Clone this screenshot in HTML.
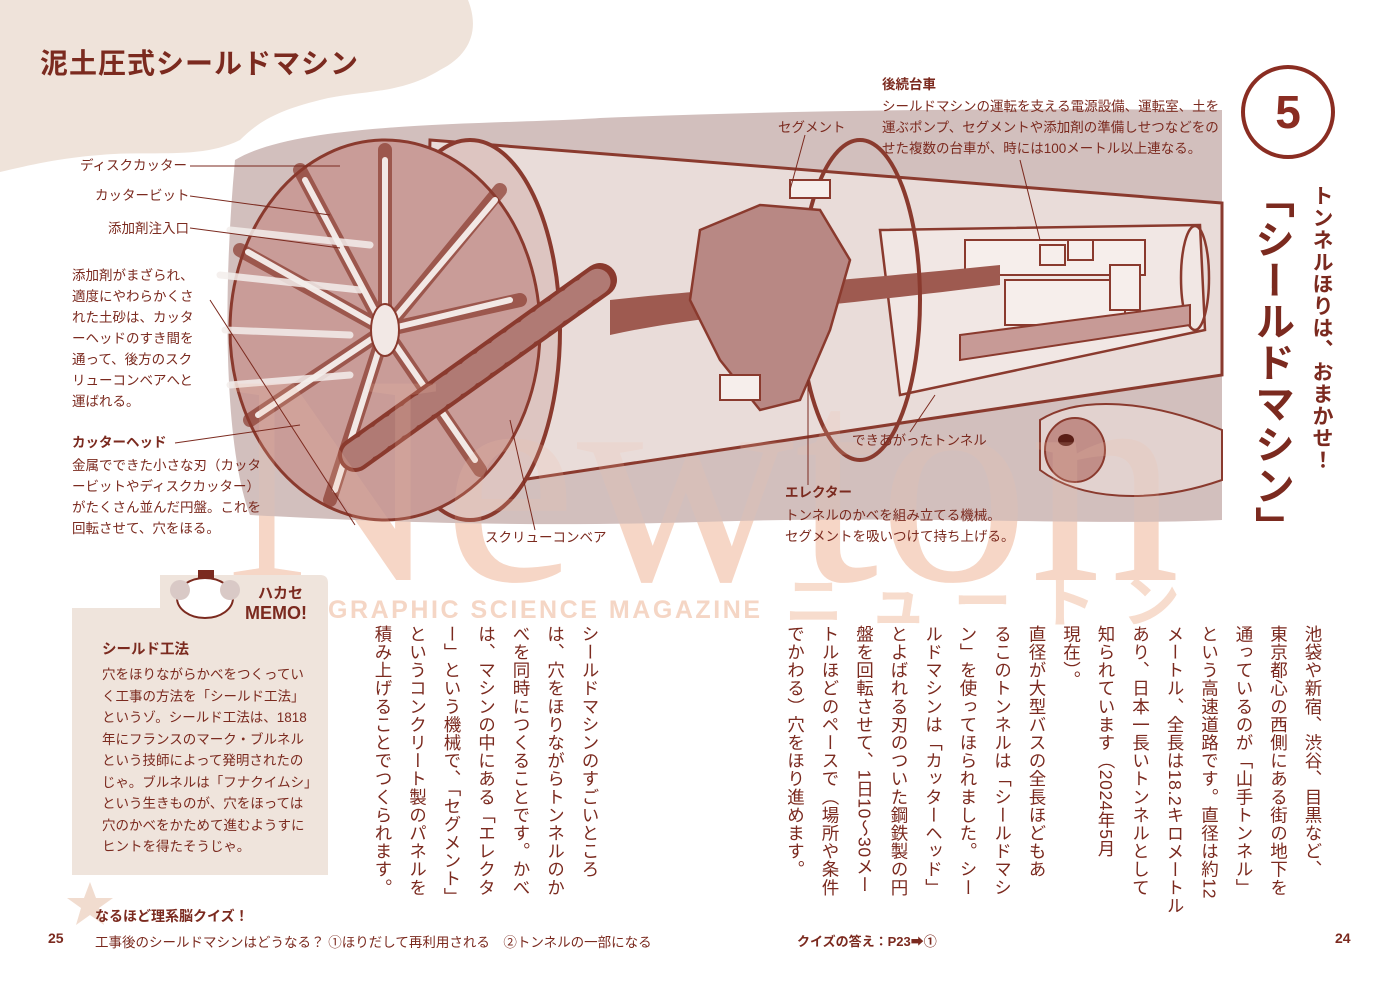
<!DOCTYPE html>
<html><head><meta charset="utf-8">
<style>
*{margin:0;padding:0;box-sizing:border-box}
body{width:1400px;height:993px;background:#fff;position:relative;overflow:hidden;font-family:"Liberation Sans","Noto Sans CJK JP",sans-serif;color:#7b2a1f}
.a{position:absolute;white-space:nowrap}
.lab{font-size:13.5px;line-height:21px}
.b{font-weight:bold}
.v{position:absolute;writing-mode:vertical-rl;font-size:17.5px;line-height:34.5px;letter-spacing:0.6px;white-space:nowrap}
.memo{font-size:13.5px;line-height:21.5px}
</style></head><body>
<svg class="a" style="left:0;top:0" width="1400" height="993" viewBox="0 0 1400 993">
<path d="M0 0 H468 C480 30 470 55 440 70 C400 95 360 90 320 100 C280 110 260 120 240 140 C200 160 150 150 100 155 C60 158 30 165 0 172 Z" fill="#efe3da"/>
<text x="225" y="580" font-family="Liberation Serif,serif" font-size="300" fill="#f7dccd" textLength="955" lengthAdjust="spacingAndGlyphs">Newton</text>
<text x="785" y="622" font-family="Liberation Sans,Noto Sans CJK JP,sans-serif" font-size="58" font-weight="bold" fill="#f7dccd" textLength="395">ニュートン</text>
<text x="328" y="618" font-family="Liberation Sans,sans-serif" font-size="25" font-weight="bold" fill="#f5d6c5" textLength="432">GRAPHIC SCIENCE MAGAZINE</text>
<path d="M235 160 C300 120 500 125 600 118 C800 110 1000 108 1222 110 L1222 520 C1100 526 900 515 700 522 C500 528 350 520 250 515 C225 450 222 300 235 160 Z" fill="#d2bfbd"/>
<polygon points="430,140 1222,203 1222,375 420,495" fill="#e9dcd9" stroke="#8a3a2e" stroke-width="3"/>
<polygon points="880,230 1200,225 1205,330 900,395" fill="#f1e7e4" stroke="#8a3a2e" stroke-width="2.5"/>
<ellipse cx="1195" cy="278" rx="14" ry="52" fill="none" stroke="#8a3a2e" stroke-width="2.5"/>
<g fill="#f6eeeb" stroke="#8a3a2e" stroke-width="2">
<rect x="965" y="240" width="180" height="35"/>
<rect x="1005" y="280" width="120" height="45"/>
<rect x="1040" y="245" width="25" height="20"/><rect x="1068" y="240" width="25" height="20"/>
<rect x="1110" y="265" width="30" height="45"/>
</g>
<path d="M960 335 L1190 305 L1190 325 L960 360 Z" fill="#c79a96" stroke="#8a3a2e" stroke-width="2"/>
<path d="M610 300 C700 290 800 285 1000 265 L1000 285 C800 310 700 315 610 335 Z" fill="#9e5a50"/>
<ellipse cx="860" cy="300" rx="60" ry="160" fill="none" stroke="#8a3a2e" stroke-width="4"/>
<path d="M700 230 L760 205 L820 210 L850 260 L830 330 L800 400 L760 410 L720 360 L690 300 Z" fill="#b88884" stroke="#8a3a2e" stroke-width="2.5"/>
<rect x="790" y="180" width="40" height="18" fill="#f6eeeb" stroke="#8a3a2e" stroke-width="2"/>
<rect x="720" y="375" width="40" height="25" fill="#f6eeeb" stroke="#8a3a2e" stroke-width="2"/>
<ellipse cx="470" cy="330" rx="90" ry="190" fill="#ddc5c1" stroke="#8a3a2e" stroke-width="4"/>
<ellipse cx="385" cy="330" rx="155" ry="190" fill="#c99c98" stroke="#8a3a2e" stroke-width="3"/>
<g stroke="#8a3a2e" stroke-width="14" stroke-linecap="round" opacity="0.7">
<line x1="385" y1="330" x2="385" y2="150"/><line x1="385" y1="330" x2="500" y2="190"/><line x1="385" y1="330" x2="520" y2="300"/>
<line x1="385" y1="330" x2="480" y2="470"/><line x1="385" y1="330" x2="330" y2="500"/><line x1="385" y1="330" x2="250" y2="420"/>
<line x1="385" y1="330" x2="240" y2="250"/><line x1="385" y1="330" x2="300" y2="170"/>
</g>
<g stroke="#f2e8e5" stroke-width="6" stroke-linecap="round">
<line x1="385" y1="330" x2="385" y2="160"/><line x1="385" y1="330" x2="495" y2="200"/><line x1="385" y1="330" x2="510" y2="300"/>
<line x1="385" y1="330" x2="475" y2="460"/><line x1="385" y1="330" x2="335" y2="490"/><line x1="385" y1="330" x2="258" y2="415"/>
<line x1="385" y1="330" x2="248" y2="252"/><line x1="385" y1="330" x2="305" y2="180"/>
</g>
<ellipse cx="385" cy="330" rx="14" ry="26" fill="#f2e8e5" stroke="#8a3a2e" stroke-width="2"/>
<line x1="355" y1="455" x2="600" y2="280" stroke="#8a3a2e" stroke-width="34" stroke-linecap="round"/>
<line x1="355" y1="455" x2="600" y2="280" stroke="#b07a74" stroke-width="26" stroke-linecap="round" stroke-dasharray="10 8"/>
<g stroke="#f4eeec" stroke-width="7" stroke-linecap="round" opacity="0.85">
<line x1="230" y1="230" x2="370" y2="245"/><line x1="220" y1="275" x2="360" y2="290"/><line x1="225" y1="330" x2="350" y2="335"/><line x1="230" y1="385" x2="350" y2="375"/>
</g>
<path d="M1040 420 C1080 395 1150 400 1222 430 L1222 480 C1150 505 1080 500 1040 470 Z" fill="#e2d2cf" stroke="#8a3a2e" stroke-width="2"/>
<ellipse cx="1075" cy="450" rx="30" ry="32" fill="#c18e88" stroke="#8a3a2e" stroke-width="2"/>
<ellipse cx="1066" cy="440" rx="8" ry="6" fill="#5a1e16"/>
<text x="225" y="580" font-family="Liberation Serif,serif" font-size="300" fill="#f2c0a8" opacity="0.18" textLength="955" lengthAdjust="spacingAndGlyphs">Newton</text>
<g stroke="#7b2a1f" stroke-width="1">
<line x1="190" y1="166" x2="340" y2="166"/><line x1="190" y1="196" x2="330" y2="215"/><line x1="190" y1="228" x2="340" y2="248"/>
<line x1="175" y1="443" x2="300" y2="425"/><line x1="210" y1="300" x2="355" y2="525"/>
<line x1="535" y1="530" x2="510" y2="420"/><line x1="805" y1="135" x2="790" y2="190"/><line x1="808" y1="485" x2="808" y2="380"/>
<line x1="910" y1="432" x2="935" y2="395"/><line x1="1020" y1="160" x2="1040" y2="240"/>
</g>
<circle cx="1288" cy="112" r="45" fill="#fff" stroke="#8a2d22" stroke-width="4"/>
<text x="1288" y="128" text-anchor="middle" font-size="46" font-weight="bold" fill="#8a2d22" font-family="Liberation Sans,sans-serif">5</text>
<polygon points="90,882 96,898 113,898 99,908 104,925 90,915 76,925 81,908 67,898 84,898" fill="#f1dccf"/>
<path d="M160 575 H320 Q328 575 328 583 V875 H72 V608 H160 Z" fill="#efe4dc"/>
<ellipse cx="205" cy="598" rx="28" ry="20" fill="#fff" stroke="#7b2a1f" stroke-width="2"/>
<circle cx="180" cy="590" r="10" fill="#d9c9c6"/><circle cx="230" cy="590" r="10" fill="#d9c9c6"/>
<rect x="198" y="570" width="16" height="8" fill="#7b2a1f"/>
</svg>

<div class="a b" style="left:40px;top:42px;font-size:28px;letter-spacing:1px">泥土圧式シールドマシン</div>

<div class="a lab" style="left:80px;top:155px">ディスクカッター</div>
<div class="a lab" style="left:95px;top:185px">カッタービット</div>
<div class="a lab" style="left:108px;top:218px">添加剤注入口</div>
<div class="a lab" style="left:72px;top:265px">添加剤がまざられ、<br>適度にやわらかくさ<br>れた土砂は、カッタ<br>ーヘッドのすき間を<br>通って、後方のスク<br>リューコンベアへと<br>運ばれる。</div>
<div class="a lab b" style="left:72px;top:432px">カッターヘッド</div>
<div class="a lab" style="left:72px;top:455px">金属でできた小さな刃（カッタ<br>ービットやディスクカッター）<br>がたくさん並んだ円盤。これを<br>回転させて、穴をほる。</div>
<div class="a lab" style="left:485px;top:527px">スクリューコンベア</div>
<div class="a lab b" style="left:785px;top:482px">エレクター</div>
<div class="a lab" style="left:785px;top:505px">トンネルのかべを組み立てる機械。<br>セグメントを吸いつけて持ち上げる。</div>
<div class="a lab" style="left:852px;top:430px">できあがったトンネル</div>
<div class="a lab" style="left:778px;top:117px">セグメント</div>
<div class="a lab b" style="left:882px;top:74px">後続台車</div>
<div class="a lab" style="left:882px;top:96px">シールドマシンの運転を支える電源設備、運転室、土を<br>運ぶポンプ、セグメントや添加剤の準備しせつなどをの<br>せた複数の台車が、時には100メートル以上連なる。</div>

<div class="a b" style="left:1306px;top:185px;writing-mode:vertical-rl;font-size:21px;letter-spacing:1px">トンネルほりは、おまかせ！</div>
<div class="a b" style="left:1242px;top:178px;writing-mode:vertical-rl;font-size:40px;letter-spacing:1px">「シールドマシン」</div>

<div class="v" style="right:70px;top:625px;height:270px">池袋や新宿、渋谷、目黒など、<br>東京都心の西側にある街の地下を<br>通っているのが「山手トンネル」<br>という高速道路です。直径は約12<br>メートル、全長は18.2キロメートル<br>あり、日本一長いトンネルとして<br>知られています（2024年5月<br>現在）。<br>直径が大型バスの全長ほどもあ<br>るこのトンネルは「シールドマシ<br>ン」を使ってほられました。シー<br>ルドマシンは「カッターヘッド」<br>とよばれる刃のついた鋼鉄製の円<br>盤を回転させて、1日10～30メー<br>トルほどのペースで（場所や条件<br>でかわる）穴をほり進めます。</div>

<div class="v" style="right:793px;top:625px;height:270px">シールドマシンのすごいところ<br>は、穴をほりながらトンネルのか<br>べを同時につくることです。かべ<br>は、マシンの中にある「エレクタ<br>ー」という機械で、「セグメント」<br>というコンクリート製のパネルを<br>積み上げることでつくられます。</div>

<div class="a b" style="left:258px;top:582px;font-size:15px">ハカセ</div>
<div class="a b" style="left:245px;top:603px;font-size:18px">MEMO!</div>
<div class="a memo b" style="left:102px;top:640px;font-size:14.5px">シールド工法</div>
<div class="a memo" style="left:102px;top:664px">穴をほりながらかべをつくってい<br>く工事の方法を「シールド工法」<br>というゾ。シールド工法は、1818<br>年にフランスのマーク・ブルネル<br>という技師によって発明されたの<br>じゃ。ブルネルは「フナクイムシ」<br>という生きものが、穴をほっては<br>穴のかべをかためて進むようすに<br>ヒントを得たそうじゃ。</div>

<div class="a b" style="left:95px;top:906px;font-size:14px">なるほど理系脳クイズ！</div>
<div class="a b" style="left:48px;top:930px;font-size:14px">25</div>
<div class="a" style="left:95px;top:931px;font-size:13.5px">工事後のシールドマシンはどうなる？ ①ほりだして再利用される　②トンネルの一部になる</div>
<div class="a b" style="left:797px;top:931px;font-size:13px">クイズの答え：P23➡①</div>
<div class="a b" style="left:1335px;top:930px;font-size:14px">24</div>
</body></html>
